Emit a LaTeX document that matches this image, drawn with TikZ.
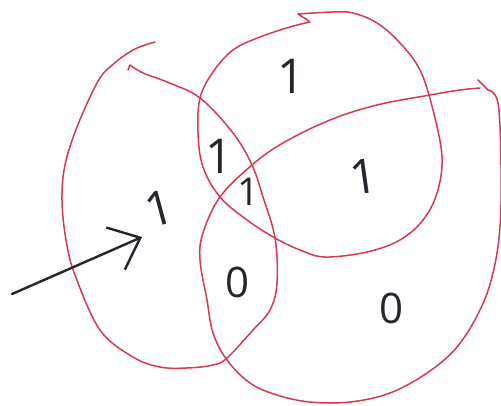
\documentclass[tikz,border=0pt]{standalone}
\usepackage{fontspec}
\setmainfont{Open Sans}
\usetikzlibrary{arrows.meta}
\definecolor{vennred}{RGB}{214,58,82}
\definecolor{ink}{RGB}{38,36,44}
\tikzset{
  setline/.style={draw=vennred, line width=1.5pt, line cap=round, line join=round},
  digit/.style={text=ink, font=\fontsize{48}{48}\selectfont, inner sep=0pt},
  zero/.style={text=ink, font=\fontsize{42}{42}\selectfont, inner sep=0pt},
  pointer/.style={draw=ink, line width=2.4pt, line cap=round, -{Straight Barb[length=27pt,width=46pt,line width=2.4pt]}}
}
\begin{document}
\begin{tikzpicture}[x=1pt,y=-1pt]
\useasboundingbox (0,0) rectangle (501,405);
\fill[white] (0,0) rectangle (501,405);
% set A (left)
\draw[setline] plot[smooth, tension=0.6] coordinates {(155,42) (133,50) (110,67) (97,83) (77,127) (65,165) (62,200) (66,240) (75,275) (100,330) (133,357) (160,367) (187,368) (213,365) (227,358) (253,330) (270,310) (277,283) (275,238) (263,197) (252,165) (233,133) (200,98) (167,82) (143,73) (130,65)} -- (128,70);
% set B (top)
\draw[setline] plot[smooth, tension=0.6] coordinates {(310,22) (290,27) (260,37) (233,50) (213,72) (200,98) (198,133) (203,167) (220,197) (247,220) (275,238) (300,250) (325,257) (367,252) (400,240) (423,220) (437,193) (442,157) (433,110) (420,70) (400,43) (377,23) (353,13) (333,12) (298,14)} -- (309,21);
% set C (bottom right)
\draw[setline] plot[smooth, tension=0.6] coordinates {(480,88) (460,90) (430,95) (377,105) (330,120) (283,143) (252,165) (220,197) (203,233) (200,260) (207,300) (213,333) (227,360) (250,383) (277,395) (310,402) (350,402) (390,393) (427,373) (457,347) (480,310) (493,273) (500,227) (501,165) (498,103) (488,90)} -- (478,80);
% digits
\node[digit] (d1) at (291,76) {1};
\node[digit] (d2) at (219,156) {1};
\node[digit, scale=0.8] (d3) at (248,192) {1};
\node[digit, rotate=8] (d4) at (364,177) {1};
\node[digit, rotate=15] (d5) at (159,208) {1};
\node[zero] (d6) at (238,282) {0};
\node[zero] (d7) at (392,308) {0};
% arrow
\coordinate (as) at (12,294);
\coordinate (at) at (142,237);
\draw[pointer] (as) -- (at);
\end{tikzpicture}
\end{document}
